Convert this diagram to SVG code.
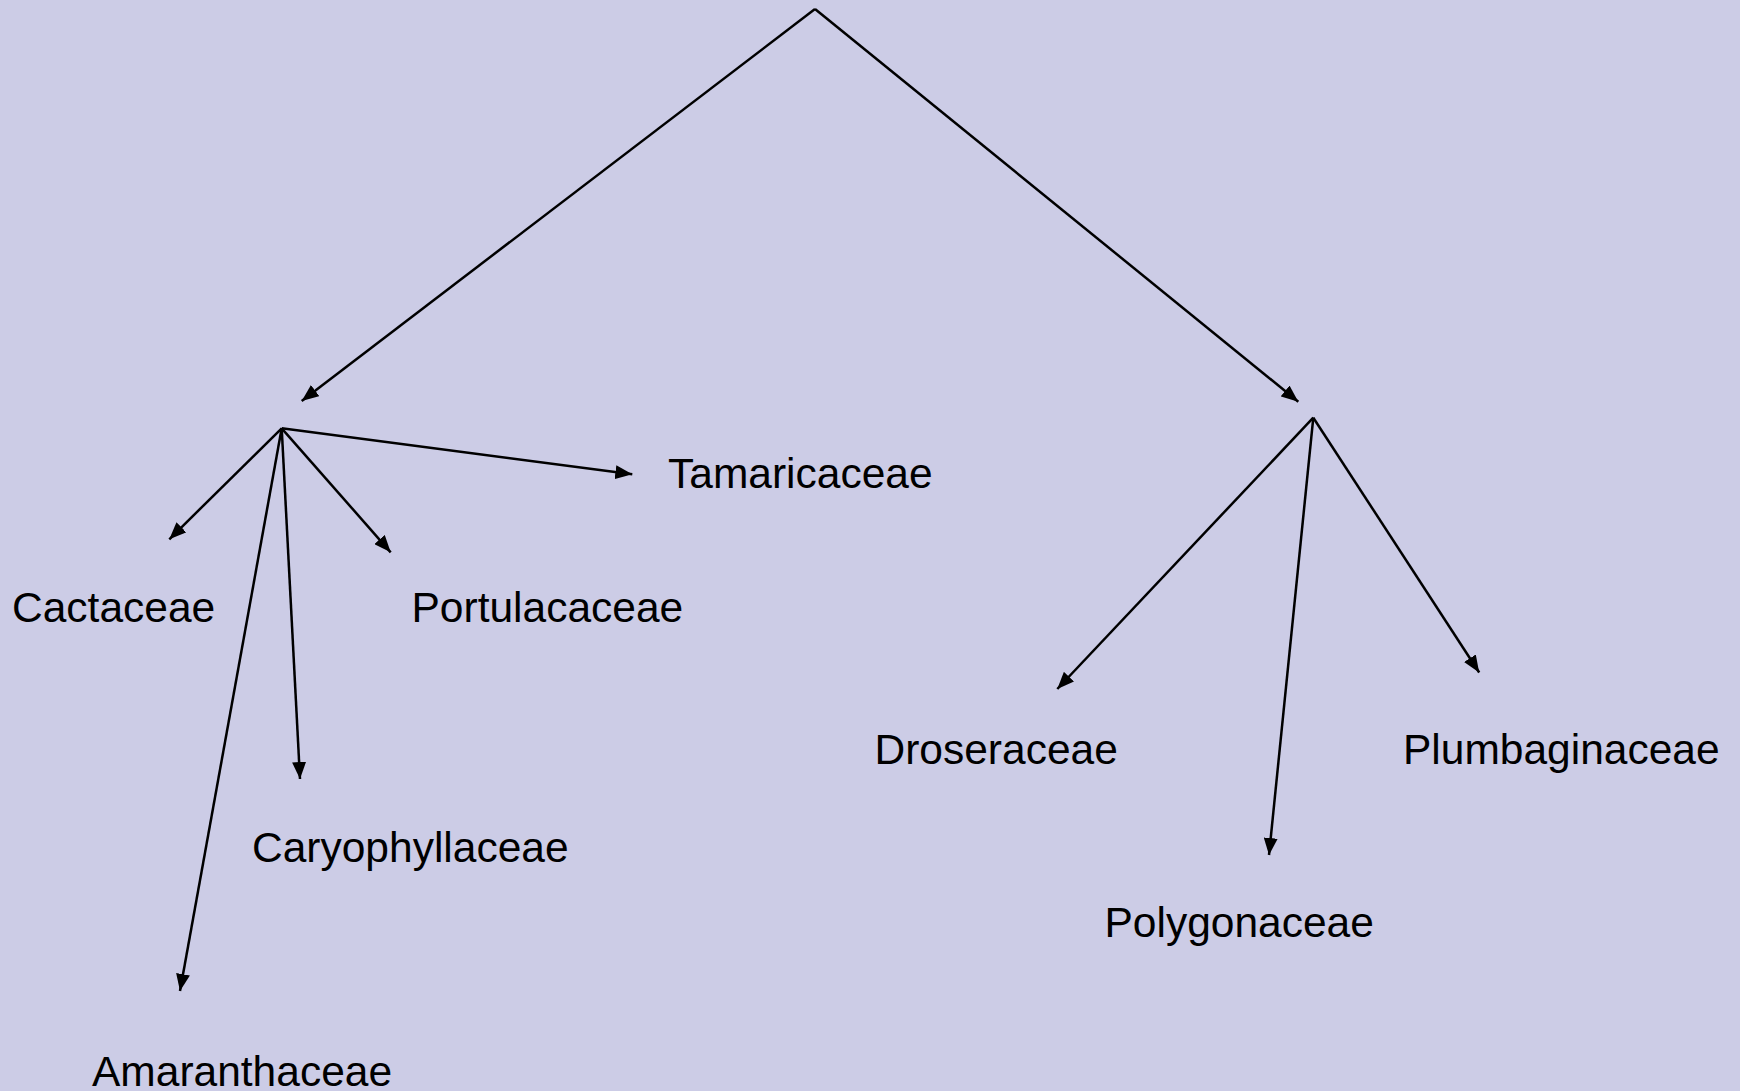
<svg xmlns="http://www.w3.org/2000/svg" width="1740" height="1091" viewBox="0 0 1740 1091">
<style>
.lbl{font-family:"Liberation Sans",Arial,sans-serif;font-size:42.5px;fill:#000}
.edge{stroke:#000;stroke-width:2.5;fill:none;marker-end:url(#ah)}
</style>
<defs>
<marker id="ah" markerUnits="userSpaceOnUse" markerWidth="18" markerHeight="14" refX="17" refY="7" orient="auto">
<path d="M0,0 L17,7 L0,14 z" fill="#000"/>
</marker>
</defs>
<rect width="1740" height="1091" fill="#CCCCE6"/>
<g id="connectors">
<line class="edge" x1="815" y1="9" x2="301.7" y2="401"/>
<line class="edge" x1="815" y1="9" x2="1298.3" y2="401.7"/>
<line class="edge" x1="281.7" y1="428.3" x2="169.3" y2="539.3"/>
<line class="edge" x1="281.7" y1="428.3" x2="390.7" y2="552.3"/>
<line class="edge" x1="281.7" y1="428.3" x2="632.3" y2="474.3"/>
<line class="edge" x1="281.7" y1="428.3" x2="300" y2="779"/>
<line class="edge" x1="281.7" y1="428.3" x2="180" y2="991"/>
<line class="edge" x1="1313.3" y1="417.7" x2="1057.3" y2="689"/>
<line class="edge" x1="1313.3" y1="417.7" x2="1269" y2="855"/>
<line class="edge" x1="1313.3" y1="417.7" x2="1479.2" y2="672.5"/>
</g>
<g id="tamaricaceae"><text class="lbl" x="668" y="487.7">Tamaricaceae</text></g>
<g id="cactaceae"><text class="lbl" x="12" y="622.3">Cactaceae</text></g>
<g id="portulacaceae"><text class="lbl" x="411.5" y="622.3">Portulacaceae</text></g>
<g id="caryophyllaceae"><text class="lbl" x="252" y="861.7">Caryophyllaceae</text></g>
<g id="amaranthaceae"><text class="lbl" x="92" y="1086">Amaranthaceae</text></g>
<g id="droseraceae"><text class="lbl" x="874.5" y="764">Droseraceae</text></g>
<g id="polygonaceae"><text class="lbl" x="1104.5" y="936.7">Polygonaceae</text></g>
<g id="plumbaginaceae"><text class="lbl" x="1403" y="764">Plumbaginaceae</text></g>
</svg>
